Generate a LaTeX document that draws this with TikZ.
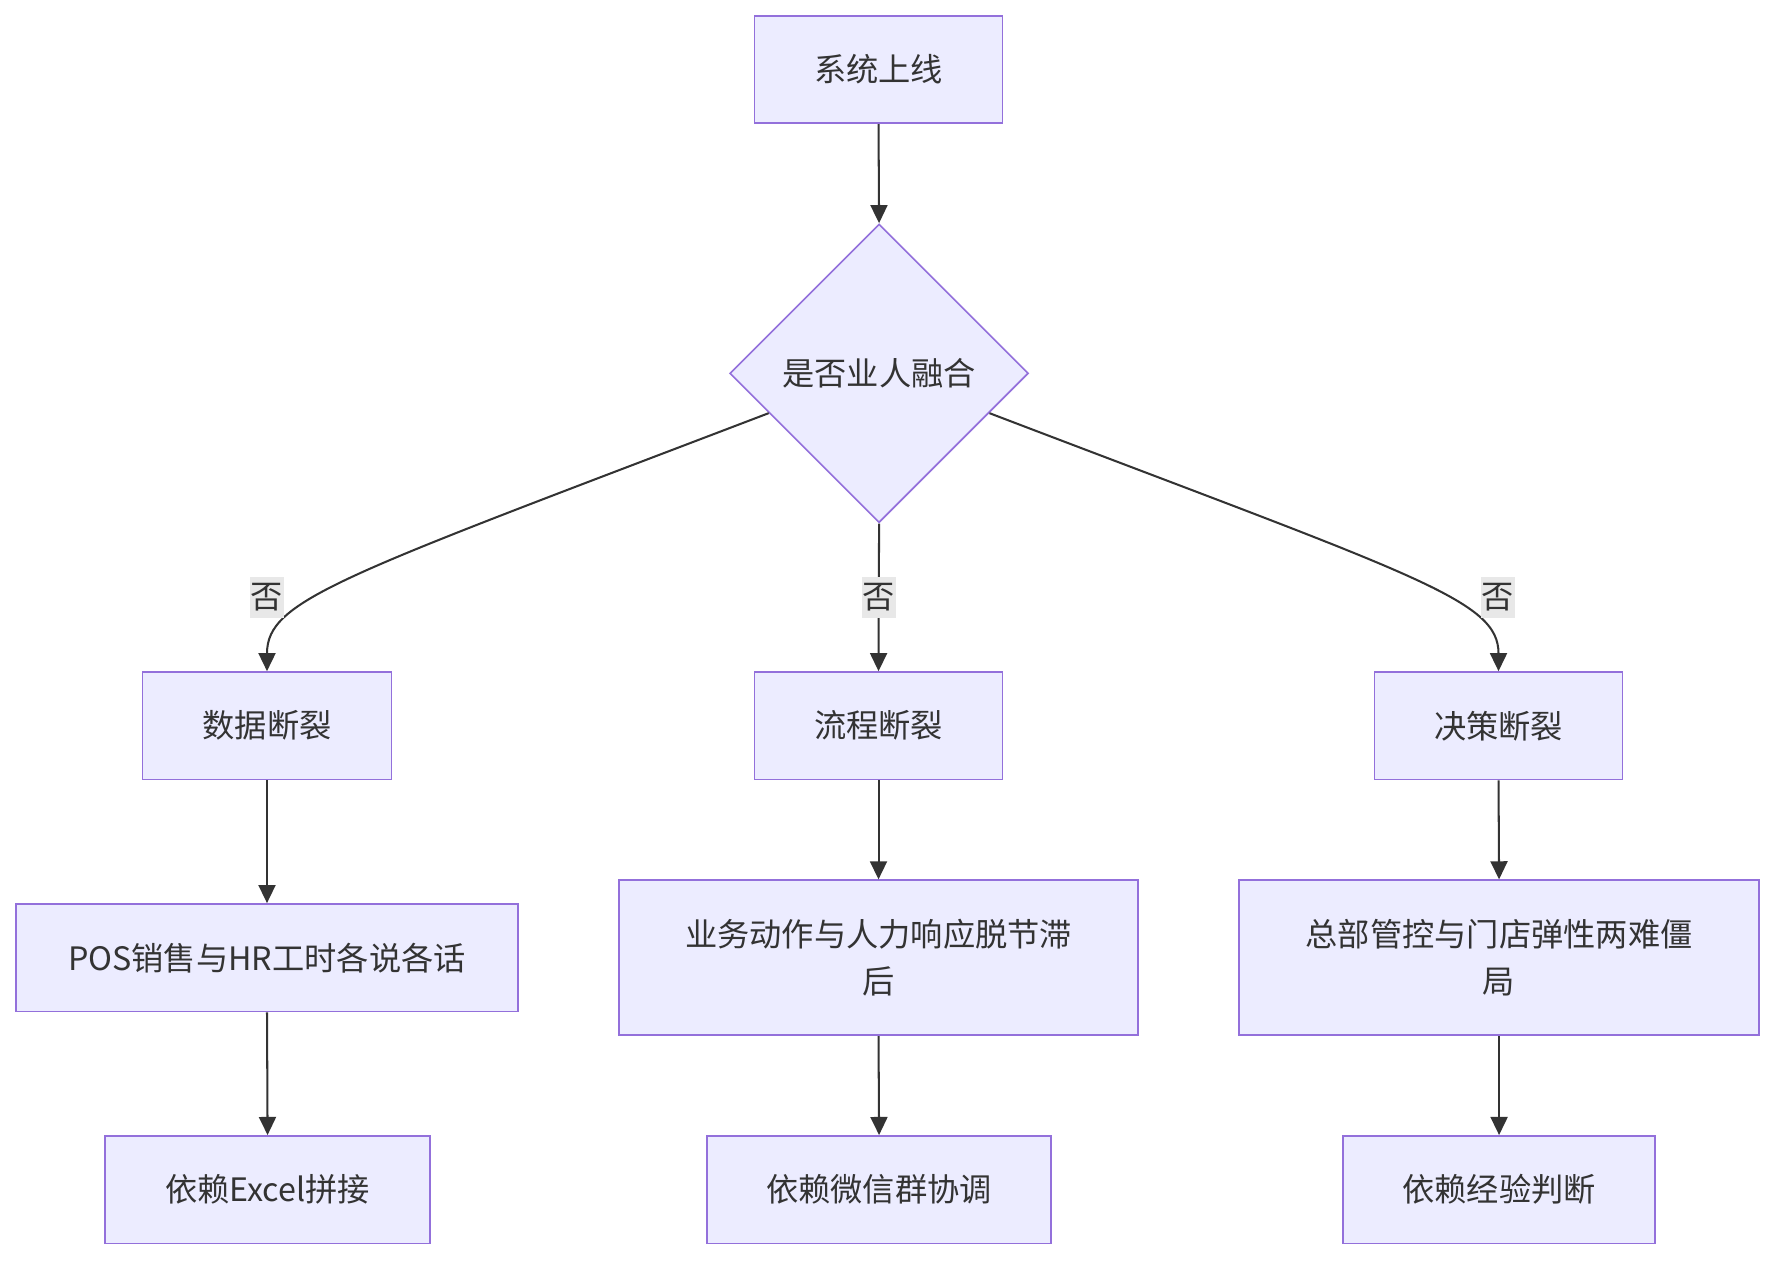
\documentclass[tikz,border=0pt]{standalone}
\usepackage{fontspec}
\setmainfont{Noto Sans CJK SC}
\usetikzlibrary{shapes.geometric,arrows.meta,calc}
\definecolor{boxfill}{HTML}{ECECFF}
\definecolor{boxline}{HTML}{9370DB}
\definecolor{ink}{HTML}{333333}
\definecolor{lblbg}{HTML}{E8E8E8}
\begin{document}
\begin{tikzpicture}[x=1pt,y=-1pt,
 box/.style={draw=boxline, fill=boxfill, line width=1.5pt, inner sep=0pt, text=ink, font=\fontsize{28.5}{41}\selectfont, align=center},
 decision/.style={diamond, aspect=1, draw=boxline, fill=boxfill, line width=1.5pt, inner sep=0pt, minimum size=264pt, text=ink, font=\fontsize{28.5}{41}\selectfont},
 conn/.style={draw=ink, line width=1.8pt, -{Triangle[length=16pt,width=15pt]}},
 lbl/.style={fill=lblbg, text=ink, font=\fontsize{28.5}{32}\selectfont, inner xsep=0.5pt, inner ysep=6pt}
]
\useasboundingbox (0,0) rectangle (1568,1114);
\node[box, minimum width=219pt, minimum height=95pt] (a) at (776.5,61.5) {系统上线};
\node[decision] (b) at (777,330) {是否业人融合};
\node[box, minimum width=220pt, minimum height=95pt] (c1) at (236,641.5) {数据断裂};
\node[box, minimum width=219pt, minimum height=95pt] (c2) at (776.5,641.5) {流程断裂};
\node[box, minimum width=219pt, minimum height=95pt] (c3) at (1324.5,641.5) {决策断裂};
\node[box, minimum width=444pt, minimum height=95pt] (d1) at (236,846.5) {POS销售与HR工时各说各话};
\node[box, minimum width=459pt, minimum height=137pt] (d2) at (776.5,846.5) {业务动作与人力响应脱节滞\\后};
\node[box, minimum width=460pt, minimum height=137pt] (d3) at (1325,846.5) {总部管控与门店弹性两难僵\\局};
\node[box, minimum width=287pt, minimum height=95pt] (e1) at (236.5,1051.5) {依赖Excel拼接};
\node[box, minimum width=304pt, minimum height=95pt] (e2) at (777,1051.5) {依赖微信群协调};
\node[box, minimum width=276pt, minimum height=95pt] (e3) at (1325,1051.5) {依赖经验判断};
\draw[conn] (a.south) -- (b.north);
\draw[conn] ($(b.west)!0.265!(b.south)$) .. controls (300,510) and (236,530) .. (c1.north);
\draw[conn] (b.south) -- (c2.north);
\draw[conn] ($(b.east)!0.265!(b.south)$) .. controls (1254,510) and (1324.5,530) .. (c3.north);
\node[lbl] (l1) at (236,528) {否};
\node[lbl] (l2) at (777,528) {否};
\node[lbl] (l3) at (1324,528) {否};
\draw[conn] (c1.south) -- (d1.north);
\draw[conn] (c2.south) -- (d2.north);
\draw[conn] (c3.south) -- (d3.north);
\draw[conn] (d1.south) -- (e1.north);
\draw[conn] (d2.south) -- (e2.north);
\draw[conn] (d3.south) -- (e3.north);
\end{tikzpicture}
\end{document}
